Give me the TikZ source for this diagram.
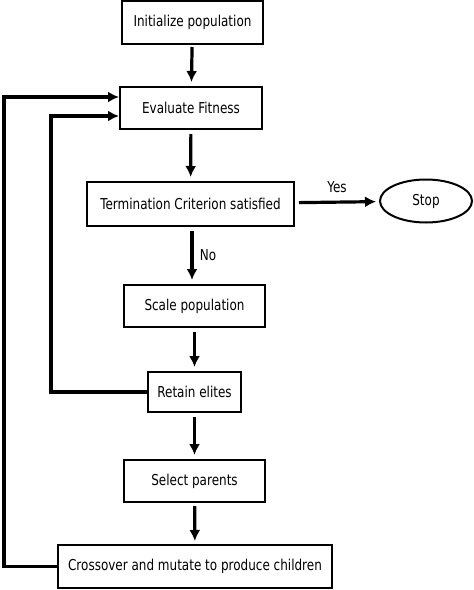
\documentclass[tikz,border=0pt]{standalone}
\usepackage{fontspec}
\setmainfont[FakeStretch=0.8]{DejaVu Sans}
\usepackage{tikz}
\usetikzlibrary{
    arrows.meta,
    shapes,
    calc,
    positioning
}
\tikzset{blk/.style={draw=black, line width=2pt, minimum height=42pt, inner sep=0pt, font=\fontsize{15}{17}\selectfont},
    flw/.style={line width=3.2pt, -{Latex[length=11pt, width=11pt]}}}

\begin{document}
\begin{tikzpicture}[x=1pt, y=-1pt]
                        \useasboundingbox (0, 0) rectangle (474, 590);
                        \node[blk, minimum width=141pt, minimum height=43pt] (init) at (192.5, 22.5) {Initialize population};
                        \node[blk, minimum width=142pt] (eval) at (191, 108) {Evaluate Fitness};
                        \node[blk, minimum width=207pt, minimum height=44pt] (term) at (190.5, 204) {Termination Criterion satisfied};
                        \node[blk, ellipse, minimum width=92pt, minimum height=43pt] (stop) at (426, 201) {Stop};
                        \node[blk, minimum width=141pt] (scale) at (194.5, 306) {Scale population};
                        \node[blk, minimum width=93pt, minimum height=40pt] (elite) at (194.5, 392) {Retain elites};
                        \node[blk, minimum width=141pt] (sel) at (194.5, 481) {Select parents};
                        \node[blk, minimum width=274pt, minimum height=43pt] (cross) at (195, 566.5) {Crossover and mutate to produce children};
                        % main flow
                        \draw[flw, shorten <=2pt, shorten >=4pt] (init) -- (eval);
                        \draw[flw, shorten <=4pt, shorten >=4pt] (eval) -- (term);
                        \draw[flw, shorten <=4pt, shorten >=3pt] (term) -- node[above=4pt, font=\fontsize{15}{17}\selectfont] {Yes} (stop);
                        \draw[flw, shorten <=4pt, shorten >=4pt] (term.south) ++(1.5, 0) coordinate (t1) -- node[right=3pt, font=\fontsize{15}{17}\selectfont] {No} (t1 |- scale.north);
                        \draw[flw, shorten <=4pt, shorten >=4pt] (scale) -- (elite);
                        \draw[flw, shorten <=4pt, shorten >=4pt] (elite) -- (sel);
                        \draw[flw, shorten <=3pt, shorten >=3pt] (sel) -- (cross);
                        % loops back
                        \draw[flw] (cross.west) -- ++(-53, 0) |- ([yshift=11pt]eval.west);
                        \draw[flw] (elite.west) -- ++(-96, 0) |- ([yshift=-8pt]eval.west);
                    \end{tikzpicture}
\end{document}
